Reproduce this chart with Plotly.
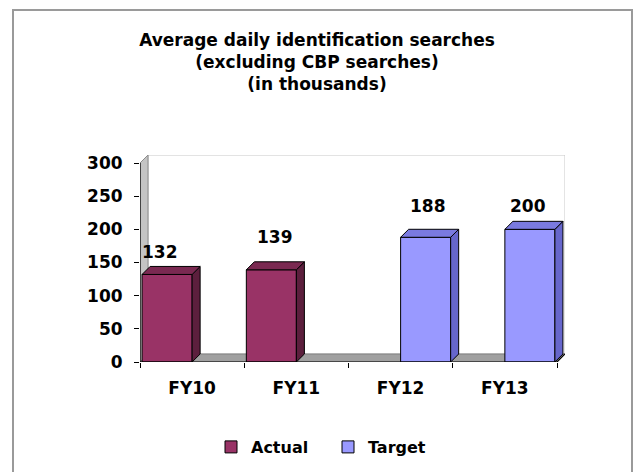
import plotly.graph_objects as go

# ---- data ----
categories = ["FY10", "FY11", "FY12", "FY13"]
actual = [132, 139, None, None]
target = [None, None, 188, 200]
y_ticks = [0, 50, 100, 150, 200, 250, 300]
title_lines = ["Average daily identification searches", "(excluding CBP searches)", "(in thousands)"]

# ---- style ----
FONT = "DejaVu Sans"
W, H = 634, 472
L, R, T, B = 140, 69, 155, 110
plot_w = W - L - R
plot_h = H - T - B
DEPTH_PX = 8
x_lo, x_hi_front = -0.5, len(categories) - 0.5
x_units = (x_hi_front - x_lo) * plot_w / (plot_w - DEPTH_PX)
dxu = x_units - (x_hi_front - x_lo)
y_top_front = 300
y_units = y_top_front * plot_h / (plot_h - DEPTH_PX)
dyu = y_units - y_top_front

series = [
    dict(name="Actual", values=actual, offset=-0.48, width=0.48,
         front="#993366", side="#5c1f3d", top="#7a2951"),
    dict(name="Target", values=target, offset=0.0, width=0.48,
         front="#9999ff", side="#6666cc", top="#7a7ae0"),
]
label_dx = {"Actual": [-7, 4], "Target": [2, -2]}
label_dy = {"Actual": [22, 33], "Target": [31, 23]}

fig = go.Figure()
xs = list(range(len(categories)))
for s in series:
    fig.add_trace(go.Bar(
        x=xs, y=s["values"], name=s["name"], offset=s["offset"], width=s["width"],
        marker=dict(color=s["front"], line=dict(color="black", width=1)),
        hoverinfo="skip",
    ))

shapes = []
# back wall
shapes.append(dict(type="rect", xref="x", yref="y", layer="below",
                   x0=x_lo + dxu, x1=x_hi_front + dxu, y0=dyu, y1=y_top_front + dyu,
                   fillcolor="white", line=dict(color="#c8c8c8", width=1)))
# left wall
shapes.append(dict(type="path", xref="x", yref="y", layer="below",
                   path=f"M{x_lo},0 L{x_lo+dxu},{dyu} L{x_lo+dxu},{y_top_front+dyu} L{x_lo},{y_top_front} Z",
                   fillcolor="#c4c4c4", line=dict(color="#8c8c8c", width=1)))
# floor
shapes.append(dict(type="path", xref="x", yref="y", layer="below",
                   path=f"M{x_lo},0 L{x_hi_front},0 L{x_hi_front+dxu},{dyu} L{x_lo+dxu},{dyu} Z",
                   fillcolor="#a0a0a0", line=dict(color="#808080", width=1)))
# axis lines
shapes.append(dict(type="path", xref="x", yref="y", layer="above",
                   path=f"M{x_lo},{y_top_front} L{x_lo},0 L{x_hi_front},0 L{x_hi_front+dxu},{dyu}",
                   line=dict(color="black", width=1.2)))

annotations = []
for s in series:
    k = 0
    for i, v in enumerate(s["values"]):
        if v is None:
            continue
        x0 = i + s["offset"]
        x1 = x0 + s["width"]
        shapes.append(dict(type="path", xref="x", yref="y", layer="above",
                           path=f"M{x1},0 L{x1+dxu},{dyu} L{x1+dxu},{v+dyu} L{x1},{v} Z",
                           fillcolor=s["side"], line=dict(color="black", width=1)))
        shapes.append(dict(type="path", xref="x", yref="y", layer="above",
                           path=f"M{x0},{v} L{x0+dxu},{v+dyu} L{x1+dxu},{v+dyu} L{x1},{v} Z",
                           fillcolor=s["top"], line=dict(color="black", width=1)))
        annotations.append(dict(x=(x0 + x1) / 2, y=v, xref="x", yref="y", text=str(v),
                                showarrow=False, xshift=label_dx[s["name"]][k],
                                yshift=label_dy[s["name"]][k], yanchor="middle",
                                font=dict(family=FONT, size=17, color="black", weight="bold")))
        k += 1

# outer chart frame (px: left 13, right 632, top 10, runs past the bottom)
fx0, fx1, fy_top = 13, 632, 10
shapes.append(dict(type="rect", xref="paper", yref="paper", layer="below",
                   x0=(fx0 - L) / plot_w, x1=(fx1 - L) / plot_w,
                   y0=-(H + 10 - T - plot_h) / plot_h,
                   y1=(T + plot_h - fy_top) / plot_h,
                   fillcolor="rgba(0,0,0,0)", line=dict(color="#9a9a9a", width=2)))

fig.update_layout(
    width=W, height=H, autosize=False,
    margin=dict(l=L, r=R, t=T, b=B, pad=0),
    paper_bgcolor="white", plot_bgcolor="white",
    font=dict(family=FONT, size=17, color="black", weight="bold"),
    title=dict(text="<br>".join(title_lines), x=0.5, xref="container", xanchor="center",
               y=1 - 46 / H, yref="container", yanchor="top",
               font=dict(family=FONT, size=17, color="black", weight="bold")),
    barmode="overlay",
    showlegend=True,
    legend=dict(orientation="h", xref="container", yref="container",
                x=211 / W, xanchor="left", y=1 - 447 / H, yanchor="middle",
                entrywidth=72, entrywidthmode="pixels",
                font=dict(family=FONT, size=16, color="black", weight="bold"),
                bgcolor="rgba(0,0,0,0)"),
    xaxis=dict(range=[x_lo, x_hi_front + dxu], tickvals=xs, ticktext=categories,
               ticks="", showline=False, showgrid=False, zeroline=False,
               ticklabelstandoff=14,
               tickfont=dict(family=FONT, size=17, color="black", weight="bold"),
               minor=dict(tickvals=[x_lo + j for j in range(len(categories) + 1)],
                          ticks="outside", ticklen=5, tickcolor="black", tickwidth=1)),
    yaxis=dict(range=[0, y_units], tickvals=y_ticks, ticks="outside", ticklen=5,
               tickcolor="black", tickwidth=1, showline=False, showgrid=False,
               zeroline=False, ticklabelstandoff=8,
               tickfont=dict(family=FONT, size=17, color="black", weight="bold")),
    shapes=shapes,
    annotations=annotations,
)

fig.write_html("out.html", config={"displayModeBar": False},
               post_script="document.body.style.margin='0';document.body.style.overflow='hidden';")
